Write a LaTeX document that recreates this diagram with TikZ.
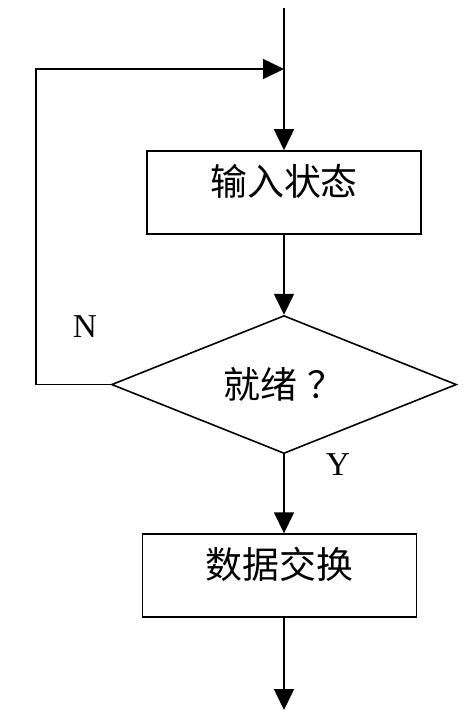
\documentclass[tikz,border=0pt]{standalone}
\usepackage{fontspec}
\setmainfont{Liberation Serif}
\newfontfamily\cjk{Noto Sans CJK SC}
\usepackage{tikz}
\usetikzlibrary{arrows.meta,calc,shapes,positioning}
\tikzstyle{process}=[rectangle,draw=black,line width=0.9pt,minimum width=5.48cm,
minimum height=1.66cm,text height=0.6cm,text depth=0.48cm,font=\cjk\fontsize{21}{24}\selectfont]
\tikzstyle{decision}=[diamond,aspect=2.6,draw=black,line width=0.9pt,minimum width=6.9cm,
minimum height=2.76cm,inner sep=0pt,font=\cjk\fontsize{21}{24}\selectfont]
\tikzstyle{answer}=[inner sep=0pt,font=\fontsize{19}{22}\selectfont]

\begin{document}
\begin{tikzpicture}[x=0.02cm, y=-0.02cm, line width=0.9pt,
    >={Triangle[length=0.42cm,width=0.4cm]}]
    \useasboundingbox (0,0) rectangle (470,720);

    \node[process] (input) at (284,192.5) {输入状态};
    \node[decision, below=1.6cm of input] (ready) {就绪\hspace{0.2cm}？};
    \node[process, below=1.58cm of ready, xshift=-0.09cm] (exchange) {数据交换};

    \coordinate (start) at (284,8);
    \coordinate (join) at (284,69);
    \coordinate (corner) at (36,69);
    \coordinate (end) at (284,710);

    \node[answer] (no) at (85,327) {N};
    \node[answer] (yes) at (338,465) {Y};

    % main flow
    \draw[->] (start) -- (input.north);
    \draw[->] (input.south) -- (ready.north);
    \draw[->] (ready.south) -- (ready.south |- exchange.north);
    \draw[->] (ready.south |- exchange.south) -- (end);
    % loop back
    \draw[->] (ready.west) -| (corner) -- (join);
\end{tikzpicture}
\end{document}
